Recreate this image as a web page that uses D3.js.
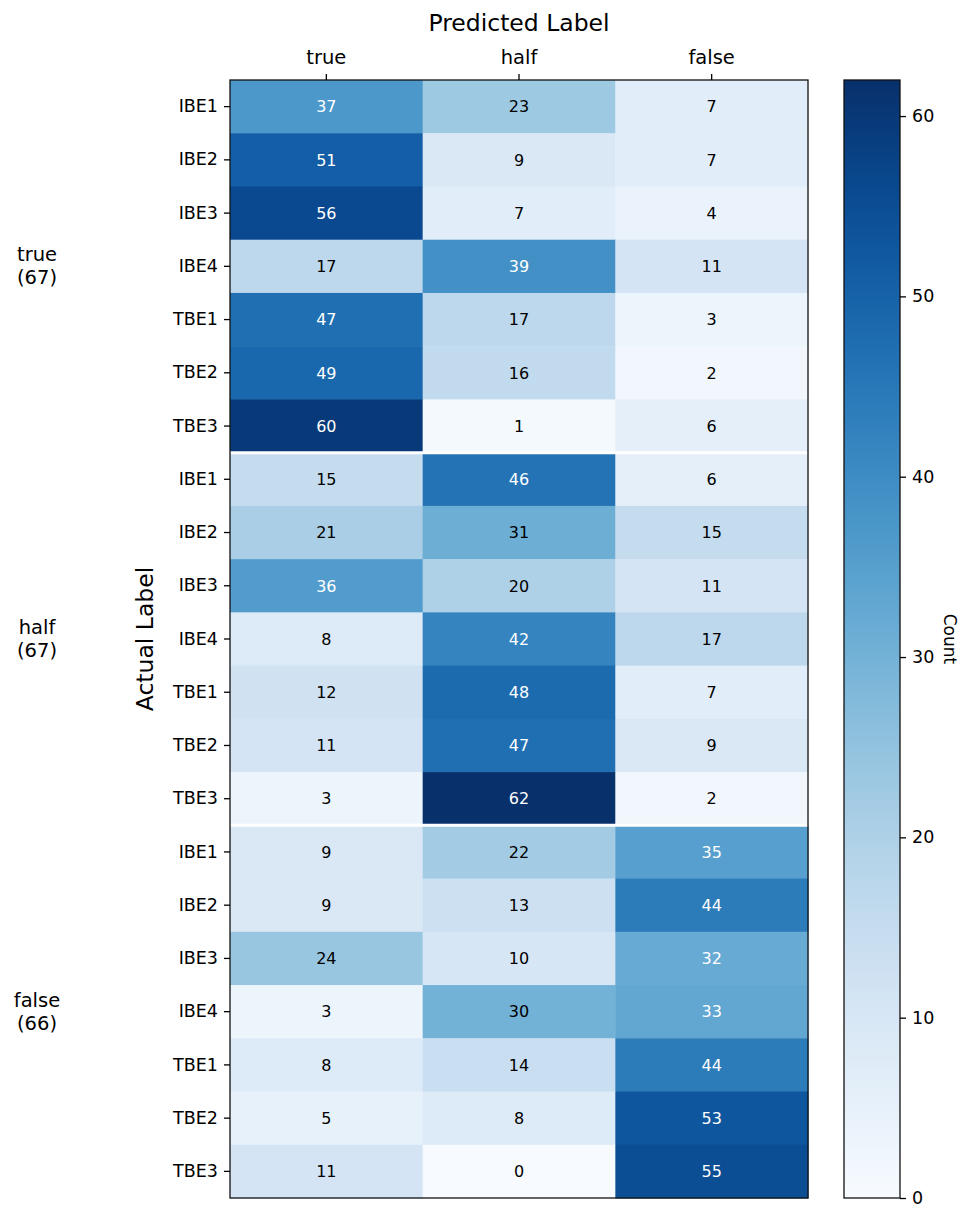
<!DOCTYPE html>
<html>
<head>
<meta charset="utf-8">
<script src="https://cdn.jsdelivr.net/npm/d3@7"></script>
<style>
  body { margin: 0; background: #fff; }
  text { font-family: "DejaVu Sans", sans-serif; }
</style>
</head>
<body>
<div id="chart"></div>
<script>
// predicted classes (columns)
var predicted = ["true", "half", "false"];
// actual class groups, with sample counts
var groups = ["true", "half", "false"];
var groupCounts = [67, 67, 66];
// model variants inside each group
var models = ["IBE1", "IBE2", "IBE3", "IBE4", "TBE1", "TBE2", "TBE3"];

// counts, one row per model, per group
var trueRows = [
    [37, 23, 7],
    [51, 9, 7],
    [56, 7, 4],
    [17, 39, 11],
    [47, 17, 3],
    [49, 16, 2],
    [60, 1, 6]
];
var halfRows = [
    [15, 46, 6],
    [21, 31, 15],
    [36, 20, 11],
    [8, 42, 17],
    [12, 48, 7],
    [11, 47, 9],
    [3, 62, 2]
];
var falseRows = [
    [9, 22, 35],
    [9, 13, 44],
    [24, 10, 32],
    [3, 30, 33],
    [8, 14, 44],
    [5, 8, 53],
    [11, 0, 55]
];
var colorTicks = [0, 10, 20, 30, 40, 50, 60];

var W = 972, H = 1221;
var pLeft = 230, pRight = 808, pTop = 80, pBottom = 1198;

var allRows = [trueRows, halfRows, falseRows];
var cells = [];
var rowKeys = [];
allRows.forEach(function (rows, g) {
    rows.forEach(function (r, m) {
        var key = g + "_" + m;
        rowKeys.push(key);
        r.forEach(function (v, c) {
            cells.push({row: key, col: predicted[c], v: v});
        });
    });
});

var vmax = d3.max(cells, function (d) { return d.v; });

var svg = d3.select("#chart").append("svg")
        .attr("width", W)
        .attr("height", H);

var x = d3.scaleBand().domain(predicted).range([pLeft, pRight]);
var y = d3.scaleBand().domain(rowKeys).range([pTop, pBottom]);
var color = d3.scaleSequential(d3.interpolateBlues).domain([0, vmax]);

svg.selectAll("rect.cell")
        .data(cells)
        .enter().append("rect")
        .attr("class", "cell")
        .attr("x", function (d) { return x(d.col); })
        .attr("y", function (d) { return y(d.row); })
        .attr("width", x.bandwidth() + 0.5)
        .attr("height", y.bandwidth() + 0.5)
        .attr("fill", function (d) { return color(d.v); });

svg.selectAll("text.val")
        .data(cells)
        .enter().append("text")
        .attr("class", "val")
        .attr("x", function (d) { return x(d.col) + x.bandwidth() / 2; })
        .attr("y", function (d) { return y(d.row) + y.bandwidth() / 2; })
        .attr("dy", "0.36em")
        .attr("text-anchor", "middle")
        .attr("font-size", "16px")
        .attr("fill", function (d) { return d.v > vmax / 2 ? "white" : "black"; })
        .text(function (d) { return d.v; });

// white separators between groups
for (var g = 1; g < groups.length; g++) {
    var yy = y(g + "_0");
    svg.append("line")
            .attr("x1", pLeft).attr("x2", pRight)
            .attr("y1", yy).attr("y2", yy)
            .attr("stroke", "white")
            .attr("stroke-width", 3);
}

// frame
svg.append("rect")
        .attr("x", pLeft).attr("y", pTop)
        .attr("width", pRight - pLeft).attr("height", pBottom - pTop)
        .attr("fill", "none")
        .attr("stroke", "#111")
        .attr("stroke-width", 1.3);

// axes
var xAxis = svg.append("g")
        .attr("transform", "translate(0," + pTop + ")")
        .call(d3.axisTop(x).tickSize(6).tickPadding(10));
xAxis.select(".domain").remove();
xAxis.selectAll("line").attr("stroke-width", 1.3);
xAxis.selectAll("text").attr("font-size", "19.5px").attr("font-family", "DejaVu Sans");

var yAxis = svg.append("g")
        .attr("transform", "translate(" + pLeft + ",0)")
        .call(d3.axisLeft(y).tickSize(6).tickPadding(6)
                .tickFormat(function (k) { return models[+k.split("_")[1]]; }));
yAxis.select(".domain").remove();
yAxis.selectAll("line").attr("stroke-width", 1.3);
yAxis.selectAll("text").attr("font-size", "17.5px").attr("font-family", "DejaVu Sans");

svg.append("text")
        .attr("x", (pLeft + pRight) / 2)
        .attr("y", 31)
        .attr("text-anchor", "middle")
        .attr("font-size", "23.5px")
        .text("Predicted Label");

svg.append("text")
        .attr("transform", "translate(153," + (pTop + pBottom) / 2 + ") rotate(-90)")
        .attr("text-anchor", "middle")
        .attr("font-size", "23.5px")
        .text("Actual Label");

// group labels
groups.forEach(function (name, g) {
    var c = y(g + "_3") + y.bandwidth() / 2;
    var t = svg.append("text")
            .attr("x", 37)
            .attr("text-anchor", "middle")
            .attr("font-size", "19.5px");
    t.append("tspan").attr("x", 37).attr("y", c - 5).text(name);
    t.append("tspan").attr("x", 37).attr("y", c + 18).text("(" + groupCounts[g] + ")");
});

// colorbar
var cbL = 844, cbR = 900;
var cy = d3.scaleLinear().domain([0, vmax]).range([pBottom, pTop]);

var grad = svg.append("defs").append("linearGradient")
        .attr("id", "cbgrad")
        .attr("x1", "0").attr("y1", "1").attr("x2", "0").attr("y2", "0");
d3.range(0, 1.0001, 0.05).forEach(function (t) {
    grad.append("stop")
            .attr("offset", t)
            .attr("stop-color", color(t * vmax));
});

svg.append("rect")
        .attr("x", cbL).attr("y", pTop)
        .attr("width", cbR - cbL).attr("height", pBottom - pTop)
        .attr("fill", "url(#cbgrad)")
        .attr("stroke", "#111")
        .attr("stroke-width", 1.3);

var cAxis = svg.append("g")
        .attr("transform", "translate(" + cbR + ",0)")
        .call(d3.axisRight(cy).tickValues(colorTicks).tickSize(6).tickPadding(6));
cAxis.select(".domain").remove();
cAxis.selectAll("line").attr("stroke-width", 1.3);
cAxis.selectAll("text").attr("font-size", "17.5px").attr("font-family", "DejaVu Sans");

svg.append("text")
        .attr("transform", "translate(944," + (pTop + pBottom) / 2 + ") rotate(90)")
        .attr("text-anchor", "middle")
        .attr("font-size", "17px")
        .text("Count");
</script>
</body>
</html>
